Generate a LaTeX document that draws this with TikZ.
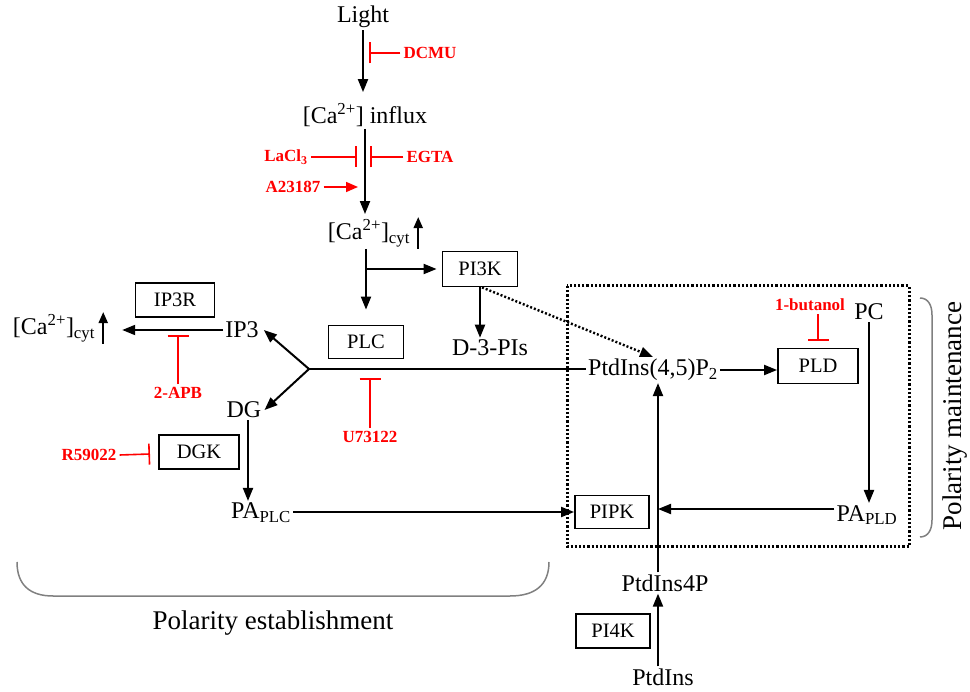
\documentclass[tikz,border=0pt]{standalone}
\usepackage{fontspec}
\setmainfont{Liberation Serif}
\usetikzlibrary{arrows.meta,calc}
\tikzset{
  txt/.style={inner sep=2pt, font=\fontsize{24}{28}\selectfont},
  box/.style={draw, line width=1.8pt, inner sep=0pt, font=\fontsize{20.5}{24}\selectfont, minimum height=34pt, minimum width=76pt},
  rtxt/.style={text=red, inner sep=3pt, font=\fontsize{17}{20}\selectfont\bfseries},
  lbl/.style={inner sep=0pt, font=\fontsize{27}{32}\selectfont},
  arr/.style={line width=2pt, -{Triangle[length=13pt,width=10pt]}},
  uarr/.style={line width=2pt, -{Triangle[length=11pt,width=9pt]}},
  dotarr/.style={line width=2.4pt, dash pattern=on 2pt off 2pt, -{Triangle[length=13pt,width=10pt]}},
  rarr/.style={red, line width=1.6pt, -{Triangle[length=12pt,width=10pt]}},
  inh/.style={red, line width=1.6pt, -{Bar[width=21pt,line width=1.6pt]}},
  bracestyle/.style={gray, line width=1.5pt},
  dotbox/.style={line width=3pt, dash pattern=on 2.2pt off 2pt}
}
\begin{document}
\begin{tikzpicture}[x=1pt,y=-1pt]
\useasboundingbox (0,0) rectangle (970,692);

% text nodes
\node[txt] (light) at (363,17) {Light};
\node[txt] (influx) at (365,115) {[Ca\textsuperscript{2+}] influx};
\node[txt] (cacyt) at (369,233) {[Ca\textsuperscript{2+}]\textsubscript{cyt}};
\node[txt] (d3pis) at (490,348) {D-3-PIs};
\node[txt] (ip3) at (242,330) {IP3};
\node[txt] (cacytL) at (54,328) {[Ca\textsuperscript{2+}]\textsubscript{cyt}};
\node[txt] (dg) at (244,410) {DG};
\node[txt] (paplc) at (261,513) {PA\textsubscript{PLC}};
\node[txt] (ptdins45) at (653,370) {PtdIns(4,5)P\textsubscript{2}};
\node[txt] (pc) at (869,312) {PC};
\node[txt] (papld) at (867,515) {PA\textsubscript{PLD}};
\node[txt] (ptdins4p) at (665,583) {PtdIns4P};
\node[txt] (ptdins) at (663,677) {PtdIns};

% boxes
\node[box, minimum width=75pt, minimum height=35pt] (pi3k) at (480,269) {PI3K};
\node[box, minimum width=75pt, minimum height=33pt] (plc) at (366,342) {PLC};
\node[box, minimum width=79pt] (ip3r) at (175,300) {IP3R};
\node[box, minimum width=80pt] (dgk) at (199,452) {DGK};
\node[box, minimum width=80pt, minimum height=35pt] (pld) at (818,366) {PLD};
\node[box, minimum width=74pt, minimum height=33pt] (pipk) at (612,512) {PIPK};
\node[box, minimum width=74pt] (pi4k) at (613,631) {PI4K};

% red labels
\node[rtxt] (dcmu) at (430,53) {DCMU};
\node[rtxt] (lacl) at (286,157) {LaCl\textsubscript{3}};
\node[rtxt] (egta) at (430,157) {EGTA};
\node[rtxt] (a23187) at (293,187) {A23187};
\node[rtxt] (u73122) at (370,437) {U73122};
\node[rtxt] (apb) at (178,393) {2-APB};
\node[rtxt] (r59) at (89,455) {R59022};
\node[rtxt] (butanol) at (810,305) {1-butanol};

% labels
\node[lbl] (pest) at (273,623) {Polarity establishment};
\node[lbl, rotate=90] (pmaint) at (955,416) {Polarity maintenance};

% coordinates
\coordinate (dcmuT) at (369,53);
\coordinate (laT) at (357,157);
\coordinate (egT) at (370,157);
\coordinate (a2T) at (358,187);
\coordinate (cj) at (366,269);
\coordinate (bj) at (309,369);
\coordinate (uT) at (370,378);
\coordinate (apT) at (178,335);
\coordinate (r5T) at (150,454);
\coordinate (buT) at (818,341);
\coordinate (vx) at (658,509);

% black connectors
\draw[arr, shorten >=9pt] (light.south) -- (light.south |- influx.north);
\draw[arr, shorten >=3pt] (influx.south) -- (influx.south |- cacyt.north);
\draw[uarr] ([xshift=6pt]cacyt.south east) -- ([xshift=6pt]cacyt.north east);
\draw[arr, shorten >=15pt] (cacyt.south -| plc.north) -- (plc.north);
\draw[arr, shorten >=5pt] (cj) -- (cj -| pi3k.west);
\draw[arr] (pi3k.south) -- (pi3k.south |- d3pis.north);
\draw[dotarr] ([xshift=2pt]pi3k.south) -- (ptdins45.north);
\draw[line width=2pt] (bj) -- (bj -| ptdins45.west);
\draw[arr] (bj) -- ([xshift=3pt]ip3.east);
\draw[arr] (bj) -- ([xshift=1pt]dg.east);
\draw[arr, shorten >=25pt] (ip3.west) -- (ip3.west -| cacytL.east);
\draw[uarr] ([xshift=6pt]cacytL.south east) -- ([xshift=6pt]cacytL.north east);
\draw[arr] ([xshift=4pt]dg.south) -- ([xshift=4pt]dg.south |- paplc.north);
\draw[arr] (paplc.east |- pipk.west) -- (pipk.west);
\draw[arr] (ptdins45.east) -- (ptdins45.east -| pld.west);
\draw[arr] (pc.south) -- (pc.south |- papld.north);
\draw[arr] (papld.west |- vx) -- (vx);
\draw[arr] (ptdins4p.north -| vx) -- (ptdins45.south -| vx);
\draw[arr] (ptdins.north -| vx) -- (ptdins4p.south -| vx);

% red connectors
\draw[inh] (dcmu.west) -- (dcmuT);
\draw[inh] (lacl.east) -- (laT);
\draw[inh] (egta.west) -- (egT);
\draw[rarr] (a23187.east) -- (a2T);
\draw[inh] (u73122.north) -- (uT);
\draw[inh] (apb.north) -- (apT);
\draw[inh] (r59.east) -- (r5T);
\draw[inh] (butanol.south -| buT) -- (buT);

% dotted region
\draw[dotbox] (567,286) rectangle (909,547);

% braces
\draw[bracestyle] (17,562) .. controls (17,585) and (30,596) .. (53,596) -- (510,596) .. controls (535,596) and (549,585) .. (549,562);
\draw[bracestyle] (920,298) .. controls (928,298) and (932,305) .. (932,315) -- (932,520) .. controls (932,530) and (928,537) .. (920,537);
\end{tikzpicture}
\end{document}
